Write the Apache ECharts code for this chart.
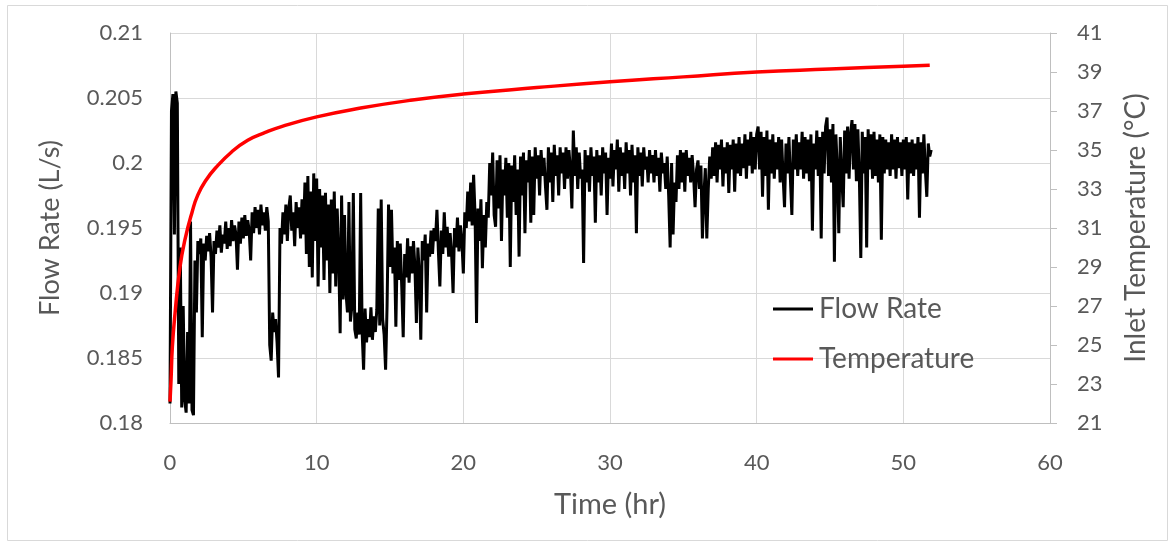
<!DOCTYPE html>
<html>
<head>
<meta charset="utf-8">
<script src="https://cdn.jsdelivr.net/npm/echarts@6/dist/echarts.min.js"></script>
<style>
html,body{margin:0;padding:0;background:#fff;}
#chart{width:1175px;height:546px;}
</style>
</head>
<body>
<div id="chart"></div>
<script>
// ---- Data ----
const xTicks = [0, 10, 20, 30, 40, 50, 60];
const flowTicks = [0.18, 0.185, 0.19, 0.195, 0.2, 0.205, 0.21];
const tempTicks = [21, 23, 25, 27, 29, 31, 33, 35, 37, 39, 41];

// Flow rate samples, one every 0.1 hr starting at t = 0 (L/s)
const flowStartHr = 0;
const flowStepHr = 0.1;
const flowRate = [
  0.1815,0.2040,0.2053,0.1945,0.2055,0.2046,0.1830,0.1935,0.1812,0.1890,
  0.1818,0.1808,0.1870,0.1815,0.1955,0.1810,0.1806,0.1925,0.1885,0.1940,
  0.1930,0.1942,0.1866,0.1938,0.1925,0.1944,0.1932,0.1946,0.1928,0.1885,
  0.1940,0.1930,0.1948,0.1935,0.1952,0.1931,0.1945,0.1938,0.1955,0.1934,
  0.1950,0.1936,0.1956,0.1940,0.1952,0.1945,0.1918,0.1955,0.1938,0.1958,
  0.1942,0.1960,0.1944,0.1956,0.1948,0.1925,0.1962,0.1946,0.1966,0.1950,
  0.1964,0.1945,0.1968,0.1952,0.1962,0.1948,0.1966,0.1955,0.1860,0.1848,
  0.1885,0.1870,0.1880,0.1862,0.1835,0.1950,0.1938,0.1962,0.1945,0.1968,
  0.1940,0.1965,0.1975,0.1948,0.1962,0.1936,0.1970,0.1950,0.1966,0.1942,
  0.1972,0.1945,0.1985,0.1930,0.1990,0.1920,0.1978,0.1912,0.1992,0.1940,
  0.1988,0.1905,0.1980,0.1935,0.1975,0.1910,0.1977,0.1925,0.1968,0.1900,
  0.1972,0.1915,0.1978,0.1905,0.1965,0.1930,0.1869,0.1975,0.1895,0.1960,
  0.1900,0.1885,0.1970,0.1878,0.1890,0.1977,0.1872,0.1865,0.1885,0.1868,
  0.1977,0.1870,0.1841,0.1888,0.1862,0.1880,0.1866,0.1889,0.1864,0.1882,
  0.1870,0.1887,0.1965,0.1875,0.1972,0.1880,0.1868,0.1841,0.1890,0.1968,
  0.1920,0.1964,0.1915,0.1935,0.1874,0.1940,0.1910,0.1938,0.1905,0.1866,
  0.1930,0.1912,0.1942,0.1908,0.1936,0.1915,0.1940,0.1920,0.1877,0.1935,
  0.1915,0.1864,0.1940,0.1925,0.1945,0.1885,0.1938,0.1928,0.1948,0.1930,
  0.1950,0.1940,0.1964,0.1932,0.1905,0.1948,0.1930,0.1962,0.1935,0.1951,
  0.1928,0.1946,0.1930,0.1900,0.1950,0.1935,0.1958,0.1932,0.1952,0.1940,
  0.1915,0.1962,0.1950,0.1978,0.1955,0.1985,0.1952,0.1991,0.1960,0.1877,
  0.1965,0.1940,0.1972,0.1919,0.1960,0.1935,0.1970,0.1958,0.2000,0.1975,
  0.2008,0.1960,0.1951,0.2002,0.1965,0.2006,0.1940,0.1995,0.1975,0.2004,
  0.1958,0.2000,0.1920,0.1998,0.1970,0.2006,0.1960,0.1995,0.1928,0.2005,
  0.1975,0.2008,0.1946,0.2002,0.1985,0.2010,0.1954,0.2005,0.1960,0.2012,
  0.1988,0.2006,0.1975,0.2010,0.1990,0.2004,0.1982,0.1964,0.2012,0.1985,
  0.2008,0.1970,0.2014,0.1990,0.2006,0.1975,0.2012,0.1992,0.2008,0.1980,
  0.2012,0.1988,0.2010,0.1995,0.1965,0.2025,0.1990,0.2012,0.1980,0.2008,
  0.1988,0.1995,0.1923,0.2010,0.1985,0.2006,0.1978,0.2012,0.1990,0.2005,
  0.1954,0.2010,0.1985,0.2006,0.1975,0.2012,0.1992,0.2008,0.1960,0.2004,
  0.1988,0.2015,0.1982,0.2010,0.1995,0.2018,0.1978,0.2012,0.1990,0.2008,
  0.1980,0.2016,0.1992,0.2010,0.1975,0.2014,0.1985,0.2006,0.1946,0.2012,
  0.1990,0.2008,0.1982,0.2012,0.1995,0.2005,0.1985,0.2010,0.1992,0.2006,
  0.1985,0.2010,0.1990,0.2004,0.1978,0.2008,0.1992,0.2000,0.1980,0.2005,
  0.1975,0.1935,0.2000,0.1945,0.1985,0.1970,0.2006,0.1980,0.2010,0.1985,
  0.2008,0.1978,0.2010,0.1990,0.2004,0.1985,0.2006,0.1990,0.1966,0.1995,
  0.2002,0.1980,0.1998,0.1942,0.1975,0.1996,0.1942,0.1980,0.2005,0.1988,
  0.2012,0.1990,0.2016,0.1985,0.2014,0.1995,0.2018,0.1982,0.2012,0.1992,
  0.2016,0.1977,0.2014,0.1995,0.2018,0.1978,0.2015,0.1992,0.2020,0.1990,
  0.2015,0.1996,0.2022,0.1988,0.2018,0.1998,0.2024,0.1992,0.2020,0.1995,
  0.2022,0.2028,0.1995,0.2024,0.1974,0.2020,0.1990,0.2025,0.1964,0.2018,
  0.1992,0.2022,0.1988,0.2016,0.1995,0.2020,0.1985,0.2018,0.1990,0.1966,
  0.2015,0.1992,0.2020,0.1988,0.1960,0.2018,0.1995,0.2022,0.1990,0.2016,
  0.1995,0.2024,0.1988,0.2020,0.1992,0.2018,0.1986,0.2022,0.1948,0.2015,
  0.1995,0.2025,0.1990,0.2020,0.1942,0.2024,0.1992,0.2028,0.2035,0.1990,
  0.2026,0.1985,0.2030,0.1924,0.2022,0.1995,0.1946,0.2020,0.1990,0.1966,
  0.2025,0.1992,0.2028,0.1988,0.2022,0.2033,0.1995,0.2030,0.1986,0.2026,
  0.1990,0.1927,0.2024,0.1992,0.2020,0.1935,0.2026,0.1995,0.2022,0.1988,
  0.2024,0.1990,0.2018,0.1985,0.2022,0.1941,0.2020,0.1992,0.2018,0.1995,
  0.2016,0.1990,0.2022,0.1995,0.2018,0.1988,0.2020,0.1996,0.2016,0.1990,
  0.2018,0.1995,0.2020,0.1972,0.2016,0.1992,0.2018,0.1990,0.2015,0.1995,
  0.2020,0.1958,0.2016,0.1992,0.2022,0.1995,0.1974,0.2015,0.2005,0.2010
];

// Inlet temperature (°C) at sampled times (hr)
const tempTime = [0, 0.07, 0.16, 0.34, 0.68, 1.02, 1.5, 1.9, 2.5, 3.07, 4.2, 5.3, 6.5, 7.6, 10, 13, 16.4, 20, 25, 30, 35, 40, 45, 50, 51.8];
const tempValue = [22.1, 23.2, 24.9, 26.6, 29.0, 30.4, 31.8, 32.7, 33.5, 34.05, 34.9, 35.5, 35.9, 36.2, 36.7, 37.15, 37.55, 37.87, 38.2, 38.5, 38.75, 39.0, 39.15, 39.3, 39.35];

// ---- Build series data ----
const flowData = flowRate.map((v, i) => [+(flowStartHr + i * flowStepHr).toFixed(2), v]);
const tempData = tempTime.map((t, i) => [t, tempValue[i]]);

const FONT = 'Lato, "Open Sans", sans-serif';
const TXT = '#595959';
const GRID = '#d9d9d9';

const chart = echarts.init(document.getElementById('chart'), null, {renderer: 'canvas'});
chart.setOption({
  animation: false,
  backgroundColor: '#fff',
  textStyle: {fontFamily: FONT},
  graphic: [{
    type: 'rect', silent: true, z: -10,
    shape: {x: 7.5, y: 5.5, width: 1160, height: 535},
    style: {fill: 'none', stroke: GRID, lineWidth: 1}
  }],
  grid: {left: 170, right: 125, top: 33, bottom: 123, containLabel: false},
  legend: {
    data: [
      {name: 'Flow Rate', icon: 'rect', itemStyle: {color: '#000000'}},
      {name: 'Temperature', icon: 'rect', itemStyle: {color: '#ff0000'}}
    ],
    orient: 'vertical',
    left: 768, top: 289,
    itemWidth: 40, itemHeight: 3, itemGap: 20,
    textStyle: {fontSize: 28, color: TXT, fontFamily: FONT, lineHeight: 30, padding: [0, 0, 0, 1]},
    selectedMode: false
  },
  xAxis: {
    type: 'value', min: 0, max: 60, interval: 10,
    name: 'Time (hr)', nameLocation: 'middle', nameGap: 67,
    nameTextStyle: {fontSize: 29, color: TXT, fontFamily: FONT},
    axisLine: {show: true, lineStyle: {color: '#bfbfbf', width: 1}},
    axisTick: {show: false},
    axisLabel: {fontSize: 22, color: TXT, margin: 29, fontFamily: FONT,
      formatter: v => xTicks.includes(v) ? String(v) : ''},
    splitLine: {show: true, lineStyle: {color: GRID, width: 1}}
  },
  yAxis: [{
    type: 'value', min: 0.18, max: 0.21, interval: 0.005, position: 'left',
    name: 'Flow Rate (L/s)', nameLocation: 'middle', nameGap: 106, nameRotate: 90,
    nameTextStyle: {fontSize: 27, color: TXT, fontFamily: FONT},
    axisLine: {show: true, lineStyle: {color: '#bfbfbf', width: 1}},
    axisTick: {show: false},
    axisLabel: {fontSize: 22, color: TXT, margin: 27, fontFamily: FONT,
      formatter: v => { const m = flowTicks.find(t => Math.abs(t - v) < 1e-9); return m === undefined ? '' : String(m); }},
    splitLine: {show: true, lineStyle: {color: GRID, width: 1}}
  }, {
    type: 'value', min: 21, max: 41, interval: 2, position: 'right',
    name: 'Inlet Temperature (°C)', nameLocation: 'middle', nameGap: 72, nameRotate: 90,
    nameTextStyle: {fontSize: 28, color: TXT, fontFamily: FONT},
    axisLine: {show: true, lineStyle: {color: '#bfbfbf', width: 1}},
    axisTick: {show: true, inside: false, length: 7, lineStyle: {color: '#bfbfbf'}},
    axisLabel: {fontSize: 22, color: TXT, margin: 27, fontFamily: FONT,
      formatter: v => tempTicks.includes(Math.round(v)) ? String(Math.round(v)) : ''},
    splitLine: {show: false}
  }],
  series: [{
    name: 'Flow Rate', type: 'line', yAxisIndex: 0,
    data: flowData, symbol: 'none', showSymbol: false,
    lineStyle: {color: '#000000', width: 3}, itemStyle: {color: '#000000'},
    z: 2
  }, {
    name: 'Temperature', type: 'line', yAxisIndex: 1,
    data: tempData, symbol: 'none', showSymbol: false, smooth: 0.5,
    lineStyle: {color: '#ff0000', width: 3.5}, itemStyle: {color: '#ff0000'},
    z: 3
  }]
});
</script>
</body>
</html>
